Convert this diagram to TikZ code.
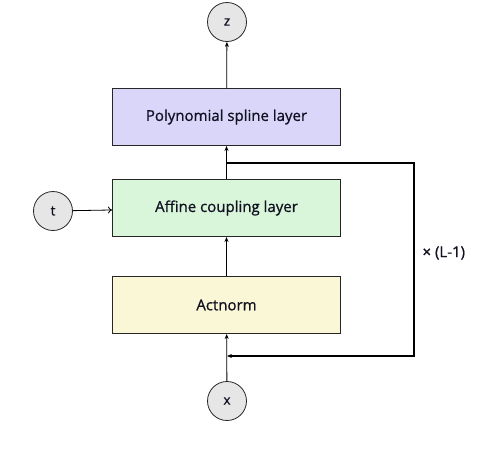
\documentclass[tikz,border=0pt]{standalone}
\usepackage{fontspec}
\setmainfont{Open Sans}
\newfontfamily\labfont{Open Sans}[FakeBold=0.9]
\usetikzlibrary{arrows.meta}
\definecolor{polyfill}{HTML}{D9D6FA}
\definecolor{afffill}{HTML}{D9F5DA}
\definecolor{actfill}{HTML}{FAF7D6}
\definecolor{circfill}{HTML}{E6E6E6}
\definecolor{txt}{HTML}{111122}
\tikzset{
  layerbox/.style={draw=black!85, line width=1pt, minimum width=228pt, minimum height=57pt, inner sep=0pt, font=\labfont\fontsize{15}{17}\selectfont, text=txt},
  var/.style={circle, draw=black!85, line width=0.8pt, fill=circfill, minimum size=39pt, inner sep=0pt, font=\labfont\fontsize{13.5}{15}\selectfont, text=txt},
  flow/.style={line width=0.8pt, -{Stealth[length=5pt,width=4pt]}},
  loop/.style={line width=1.1pt, -{Stealth[length=5pt,width=4pt]}},
}
\begin{document}
\begin{tikzpicture}[x=1pt,y=-1pt]
\useasboundingbox (0,0) rectangle (504,456);
\node[var] (z) at (227,22) {z};
\node[layerbox, fill=polyfill] (poly) at (226.5,117) {Polynomial spline layer};
\node[layerbox, fill=afffill] (aff) at (226.5,208) {Affine coupling layer};
\node[layerbox, fill=actfill] (act) at (226.5,305) {Actnorm};
\node[var] (t) at (53,211) {t};
\node[var] (x) at (227,401) {x};
\coordinate (s) at (227,163);
\coordinate (r1) at (414,163);
\coordinate (r2) at (414,356);
\coordinate (e) at (227,356);
\draw[flow] (x) -- (act);
\draw[flow] (act) -- (aff);
\draw[flow] (aff) -- (poly);
\draw[flow] (poly) -- (z);
\draw[line width=0.8pt, -{To[length=4pt,width=7pt]}] (t) -- (aff);
\draw[loop] (s) -- (r1) -- (r2) -- (e);
\node[anchor=west, font=\labfont\fontsize{15}{17}\selectfont, text=txt] (lbl) at (419,253) {× (L-1)};
\end{tikzpicture}
\end{document}
